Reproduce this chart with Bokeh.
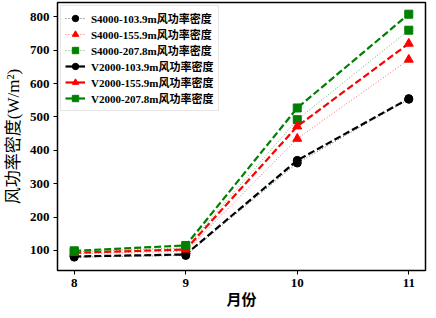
from bokeh.plotting import figure
from bokeh.models import Range1d, Legend, LegendItem, FixedTicker, ColumnDataSource
from bokeh.embed import file_html
from bokeh.resources import INLINE

months = [8, 9, 10, 11]
s4000_103 = [80, 85, 362, 553]
s4000_155 = [90, 98, 435, 672]
s4000_207 = [96, 108, 492, 760]
v2000_103 = [82, 88, 370, 555]
v2000_155 = [93, 103, 472, 720]
v2000_207 = [99, 115, 527, 808]
labels = ["S4000-103.9m风功率密度", "S4000-155.9m风功率密度", "S4000-207.8m风功率密度",
          "V2000-103.9m风功率密度", "V2000-155.9m风功率密度", "V2000-207.8m风功率密度"]
y_ticks = [100, 200, 300, 400, 500, 600, 700, 800]

FONT = "Liberation Serif, 'Noto Sans CJK SC', serif"

p = figure(width=428, height=310, output_backend="svg", toolbar_location=None,
           x_range=Range1d(7.85, 11.15), y_range=Range1d(40, 843),
           min_border_left=50, min_border_right=3, min_border_top=2, min_border_bottom=35)
p.background_fill_color = "white"
p.border_fill_color = "white"
p.outline_line_color = "black"
p.outline_line_width = 1.5
p.xgrid.visible = False
p.ygrid.visible = False

for ax in (p.xaxis[0], p.yaxis[0]):
    ax.axis_line_color = None
    ax.major_tick_line_color = "black"
    ax.major_tick_line_width = 1
    ax.major_tick_out = 4
    ax.major_tick_in = 0
    ax.minor_tick_line_color = None
    ax.major_label_text_font = FONT
    ax.major_label_text_font_size = "13px"
    ax.major_label_text_font_style = "bold"
    ax.major_label_text_color = "black"
    ax.axis_label_text_font = FONT
    ax.axis_label_text_font_style = "bold"
    ax.axis_label_text_color = "black"
p.xaxis.axis_label_text_font_size = "15px"
p.yaxis.axis_label_text_font_size = "17px"
p.yaxis.axis_label_text_font_style = "normal"
p.xaxis.ticker = FixedTicker(ticks=months)
p.yaxis.ticker = FixedTicker(ticks=y_ticks)
p.xaxis.axis_label = "月份"
p.yaxis.axis_label = "风功率密度(W/m²)"
p.xaxis.major_label_standoff = 4
p.xaxis.axis_label_standoff = 2
p.yaxis.major_label_standoff = 4
p.yaxis.axis_label_standoff = 4

series = [
    (s4000_103, "black", "dotted", "circle"),
    (s4000_155, "red", "dotted", "triangle"),
    (s4000_207, "green", "dotted", "square"),
    (v2000_103, "black", "dashed", "circle"),
    (v2000_155, "red", "dashed", "triangle"),
    (v2000_207, "green", "dashed", "square"),
]

nan = float("nan")
items = []
for (vals, color, style, marker), lab in zip(series, labels):
    src = ColumnDataSource(dict(x=months, y=vals))
    if style == "dotted":
        p.line("x", "y", source=src, line_color=color, line_width=1, line_dash="1 2", line_alpha=0.6)
        lw, dash, la = 1, "1 2", 0.6
    else:
        p.line("x", "y", source=src, line_color=color, line_width=2.2, line_dash="7 3")
        lw, dash, la = 2.2, "solid", 1.0
    size = 9 if marker == "triangle" else 8
    p.scatter("x", "y", source=src, marker=marker, size=size, fill_color=color, line_color=color)
    # legend sample renderers (no visible data in the plot area)
    dummy = ColumnDataSource(dict(x=[nan], y=[nan]))
    lr = p.line("x", "y", source=dummy, line_color=color, line_width=lw, line_dash=dash, line_alpha=la)
    sr = p.scatter("x", "y", source=dummy, marker=marker, size=size, fill_color=color, line_color=color)
    items.append(LegendItem(label=lab, renderers=[lr, sr]))

legend = Legend(items=items, location="top_left")
legend.label_text_font = FONT
legend.label_text_font_size = "11px"
legend.label_text_font_style = "bold"
legend.label_text_color = "black"
legend.glyph_width = 20
legend.glyph_height = 16
legend.label_height = 16
legend.spacing = 0
legend.padding = 4
legend.margin = 3
legend.label_standoff = 6
legend.border_line_color = "#cccccc"
legend.border_line_width = 1
legend.background_fill_alpha = 0.8
p.add_layout(legend)

open("out.html", "w").write(file_html(p, INLINE))
